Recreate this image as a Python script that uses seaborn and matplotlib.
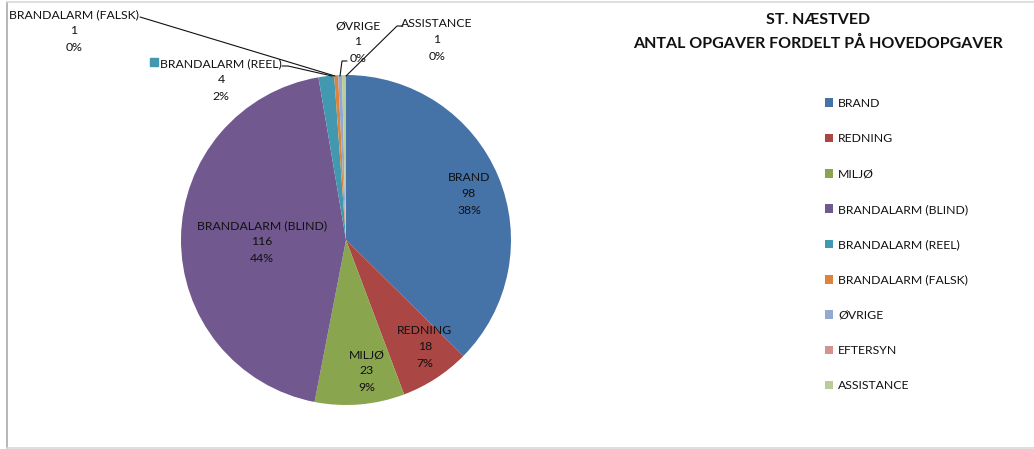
import matplotlib
matplotlib.use("Agg")
import matplotlib.pyplot as plt
import seaborn as sns
from matplotlib.lines import Line2D
from matplotlib.patches import Patch

# ---- data ----
categories = ["BRAND", "REDNING", "MILJØ", "BRANDALARM (BLIND)", "BRANDALARM (REEL)",
              "BRANDALARM (FALSK)", "ØVRIGE", "EFTERSYN", "ASSISTANCE"]
values = [98, 18, 23, 116, 4, 1, 1, 0, 1]
pct_labels = ["38%", "7%", "9%", "44%", "2%", "0%", "0%", "0%", "0%"]
title_lines = ["ST. NÆSTVED", "ANTAL OPGAVER FORDELT PÅ HOVEDOPGAVER"]

colors = ["#4572A7", "#AA4643", "#89A54E", "#71588F", "#4198AF",
          "#DB843D", "#93A9CF", "#D19392", "#B9CD96"]

sns.set_theme(style="white")
plt.rcParams["font.family"] = ["Lato", "DejaVu Sans"]
FS = 8.8
TXT = "#111111"

W, H = 1034, 449
fig = plt.figure(figsize=(W / 100, H / 100), dpi=100)

cx, cy, R = 346, 240, 165
ax = fig.add_axes([(cx - R) / W, (H - cy - R) / H, 2 * R / W, 2 * R / H])
ax.pie(values, colors=colors, startangle=90, counterclock=False, radius=1,
       wedgeprops=dict(edgecolor="none"))
ax.set_xlim(-1, 1)
ax.set_ylim(-1, 1)
ax.set_aspect("auto")
ax.axis("off")


def d(px, py):
    return ((px - cx) / R, (cy - py) / R)


# label positions (pixel centres of the 3-line labels)
label_pos = {
    0: (469, 194),
    1: (425, 347),
    2: (367, 371),
    3: (262, 242),
    4: (221, 80),
    5: (74, 31),
    6: (358, 42),
    8: (437, 40),
}
for i, (px, py) in label_pos.items():
    x, y = d(px, py)
    ax.text(x, y, f"{categories[i]}\n{values[i]}\n{pct_labels[i]}", ha="center", va="center",
            fontsize=FS, color=TXT, linespacing=1.58, clip_on=False)

# legend key in REEL label
sx, sy = d(153.5, 62.5)
ax.plot([sx], [sy], marker="s", markersize=6, color=colors[4], clip_on=False, linestyle="none")

# leader lines
leaders = [
    [(140, 17), (335, 76)],
    [(282, 66), (288, 66), (332, 76)],
    [(340, 76), (342, 61), (347, 61)],
    [(346, 76), (397, 26), (403, 26)],
]
for pts in leaders:
    xs, ys = zip(*[d(*p) for p in pts])
    ax.add_line(Line2D(xs, ys, color="#111111", lw=0.8, clip_on=False))

# title
fig.text(818 / W, 1 - 20 / H, title_lines[0], ha="center", va="center", fontsize=11.5,
         fontweight="bold", color=TXT)
fig.text(818 / W, 1 - 43 / H, title_lines[1], ha="center", va="center", fontsize=11.5,
         fontweight="bold", color=TXT)

# legend
handles = [Patch(facecolor=c, edgecolor="none") for c in colors]
leg = fig.legend(handles, categories, loc="upper left", bbox_to_anchor=(820 / W, 1 - 93 / H),
                 frameon=False, fontsize=FS, handlelength=0.7, handleheight=0.7,
                 handletextpad=0.4, labelspacing=1.99, borderaxespad=0, labelcolor=TXT)

# chart border
fig.add_artist(Line2D([7 / W, 7 / W], [1 - 1.5 / H, 1 - 447.5 / H], color="#AAAAAA", lw=1.2))
fig.add_artist(Line2D([7 / W, 1], [1 - 1.5 / H, 1 - 1.5 / H], color="#D9D9D9", lw=1.2))
fig.add_artist(Line2D([7 / W, 1], [1 - 447.5 / H, 1 - 447.5 / H], color="#D9D9D9", lw=1.2))

fig.savefig("out.png", dpi=100, facecolor="white")
